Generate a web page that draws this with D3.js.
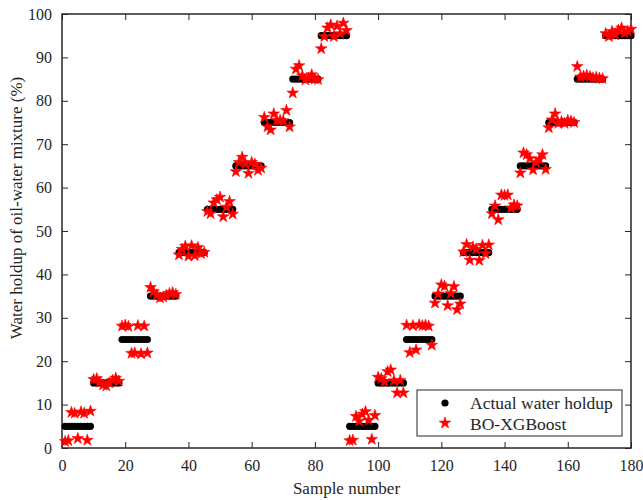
<!DOCTYPE html>
<html>
<head>
<meta charset="utf-8">
<script src="https://cdn.jsdelivr.net/npm/d3@7"></script>
<style>
  body { margin: 0; background: #fff; }
  text { font-family: "Liberation Serif", "Times New Roman", serif; }
</style>
</head>
<body>
<div id="chart"></div>
<script>
// actual water holdup levels, each level held for 9 samples, two passes
var levels = [5, 15, 25, 35, 45, 55, 65, 75, 85, 95];

// BO-XGBoost predictions for samples 1..180
var predicted = [
  1.5, 1.7, 8.2, 8.0, 2.2, 8.3, 8.0, 1.8, 8.5,
  15.8, 16.0, 15.2, 14.5, 14.3, 15.0, 15.6, 16.1, 15.4,
  28.1, 28.3, 28.0, 21.8, 21.9, 28.2, 21.7, 28.1, 21.9,
  37.0, 36.0, 35.3, 34.6, 34.8, 35.2, 35.6, 35.8, 35.4,
  44.5, 45.8, 46.5, 44.2, 46.6, 44.3, 46.2, 44.8, 45.1,
  54.5, 54.0, 56.5, 57.2, 57.8, 53.3, 55.5, 56.8, 53.9,
  63.7, 65.8, 67.0, 65.5, 63.3, 65.8, 65.4, 64.0, 64.5,
  76.2, 74.0, 73.3, 77.0, 75.5, 75.5, 75.4, 77.8, 74.0,
  81.8, 87.3, 88.1, 85.8, 84.8, 85.2, 86.0, 85.0, 84.9,
  92.0, 94.8, 96.8, 97.5, 94.8, 97.2, 95.5, 97.9, 96.2,
  1.7, 1.8, 7.3, 6.2, 7.8, 8.4, 6.4, 2.0, 7.5,
  16.3, 16.0, 15.2, 17.6, 18.0, 15.5, 12.7, 15.6, 12.7,
  28.3, 22.0, 28.2, 22.6, 28.4, 28.2, 28.3, 28.1, 23.7,
  33.4, 35.5, 37.6, 37.3, 32.8, 35.6, 37.2, 31.9, 33.2,
  45.2, 46.9, 43.3, 46.3, 45.8, 43.2, 46.7, 44.8, 46.8,
  54.0, 55.8, 52.6, 58.3, 58.2, 58.3, 55.3, 56.0, 55.8,
  63.4, 68.0, 67.6, 66.7, 64.1, 65.8, 66.5, 67.6, 64.2,
  73.8, 75.6, 77.0, 74.8, 75.2, 74.8, 75.5, 75.3, 75.0,
  87.9, 85.5, 85.7, 85.9, 85.6, 85.3, 85.4, 85.2, 85.1,
  95.5, 94.8, 96.0, 95.2, 96.3, 96.8, 95.6, 96.0, 96.5
];

var xTicks = [0, 20, 40, 60, 80, 100, 120, 140, 160, 180];
var yTicks = [0, 10, 20, 30, 40, 50, 60, 70, 80, 90, 100];
var seriesNames = ["Actual water holdup", "BO-XGBoost"];

// build per-sample actual values from the levels
var actual = [];
[0, 1].forEach(function(pass) {
  levels.forEach(function(v) {
    for (var k = 0; k < 9; k++) actual.push(v);
  });
});
var data = actual.map(function(v, i) {
  return {n: i + 1, actual: v, pred: predicted[i]};
});

var margin = {top: 14, right: 12, bottom: 52, left: 62},
    width = 643 - margin.left - margin.right,
    height = 500 - margin.top - margin.bottom;

var svg = d3.select("#chart")
    .append("svg")
    .attr("width", 643)
    .attr("height", 500)
    .append("g")
    .attr("transform", "translate(" + margin.left + "," + margin.top + ")");

var x = d3.scaleLinear().domain([0, 180]).range([0, width]);
var y = d3.scaleLinear().domain([0, 100]).range([height, 0]);

// axes, ticks pointing inward
function styleAxis(g) {
  g.select(".domain").remove();
  g.selectAll("line").attr("stroke", "#262626");
  g.selectAll("text").attr("fill", "#262626").style("font-size", "16px")
    .style("font-family", "Liberation Serif, serif");
}
svg.append("g")
    .attr("transform", "translate(0," + height + ")")
    .call(d3.axisBottom(x).tickValues(xTicks).tickSizeInner(-6).tickSizeOuter(0).tickPadding(12))
    .call(styleAxis);
svg.append("g")
    .call(d3.axisTop(x).tickValues(xTicks).tickSizeInner(-6).tickSizeOuter(0).tickFormat(""))
    .call(styleAxis);
svg.append("g")
    .call(d3.axisLeft(y).tickValues(yTicks).tickSizeInner(-6).tickSizeOuter(0).tickPadding(10))
    .call(styleAxis);
svg.append("g")
    .attr("transform", "translate(" + width + ",0)")
    .call(d3.axisRight(y).tickValues(yTicks).tickSizeInner(-6).tickSizeOuter(0).tickFormat(""))
    .call(styleAxis);

svg.append("rect")
    .attr("width", width)
    .attr("height", height)
    .attr("fill", "none")
    .attr("stroke", "#262626")
    .attr("stroke-width", 1.5);

// actual points
svg.selectAll(".dot")
    .data(data)
    .enter().append("circle")
    .attr("class", "dot")
    .attr("cx", function(d) { return x(d.n); })
    .attr("cy", function(d) { return y(d.actual); })
    .attr("r", 3.6)
    .attr("fill", "black");

// predicted stars
var star = d3.symbol().type(d3.symbolStar).size(42);
svg.selectAll(".star")
    .data(data)
    .enter().append("path")
    .attr("class", "star")
    .attr("transform", function(d) { return "translate(" + x(d.n) + "," + y(d.pred) + ")"; })
    .attr("d", star)
    .attr("fill", "red")
    .attr("stroke", "red")
    .attr("stroke-width", 0.6);

// axis labels
svg.append("text")
    .attr("x", width / 2)
    .attr("y", height + 46)
    .style("text-anchor", "middle")
    .style("font-size", "17px")
    .attr("fill", "#262626")
    .text("Sample number");

svg.append("text")
    .attr("transform", "translate(" + (-40) + "," + 194 + ") rotate(-90)")
    .style("text-anchor", "middle")
    .style("font-size", "17px")
    .attr("fill", "#262626")
    .text("Water holdup of oil-water mixture (%)");

// legend
var lg = svg.append("g")
    .attr("transform", "translate(" + (417 - margin.left) + "," + (390 - margin.top) + ")");
lg.append("rect")
    .attr("width", 205)
    .attr("height", 46)
    .attr("fill", "white")
    .attr("stroke", "#262626")
    .attr("stroke-width", 1);
lg.append("circle").attr("cx", 28).attr("cy", 13).attr("r", 3.6).attr("fill", "black");
lg.append("path")
    .attr("transform", "translate(28,33)")
    .attr("d", star)
    .attr("fill", "red")
    .attr("stroke", "red")
    .attr("stroke-width", 0.6);
lg.selectAll(".lt")
    .data(seriesNames)
    .enter().append("text")
    .attr("x", 53)
    .attr("y", function(d, i) { return 19 + i * 21; })
    .style("font-size", "17.5px")
    .attr("fill", "#262626")
    .text(function(d) { return d; });
</script>
</body>
</html>
